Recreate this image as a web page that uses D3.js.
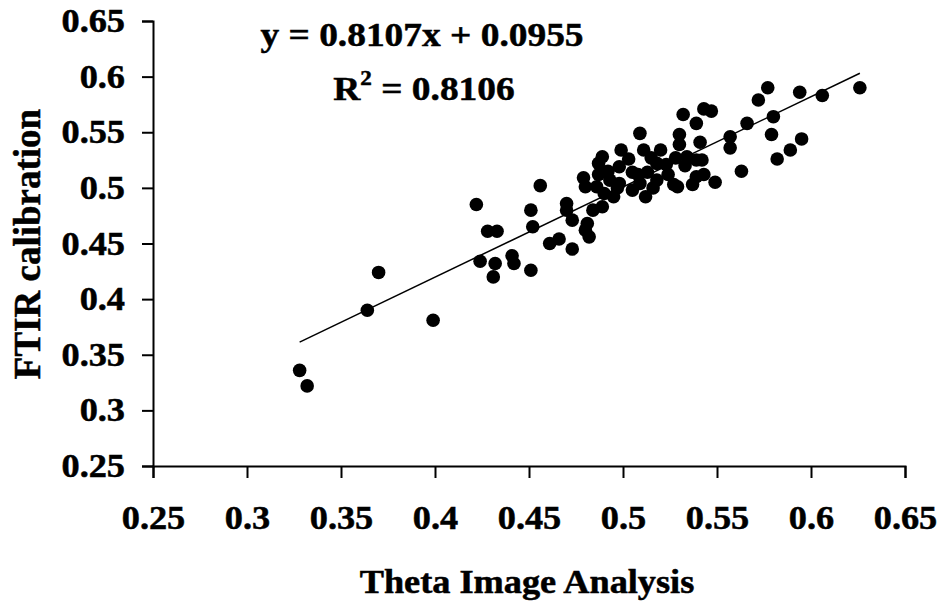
<!DOCTYPE html>
<html>
<head>
<meta charset="utf-8">
<script src="https://cdn.jsdelivr.net/npm/d3@7"></script>
<style>
  body { margin: 0; background: #fff; }
  text { font-family: "Liberation Serif", "Times New Roman", serif; font-weight: bold; fill: #000; stroke: #000; stroke-width: 0.5px; }
</style>
</head>
<body>
<div id="chart"></div>
<script>
// Theta image analysis (x) vs FTIR calibration (y)
const thetaX = [
  0.328, 0.332, 0.364, 0.370, 0.399, 0.422, 0.428, 0.433, 0.424, 0.432,
  0.431, 0.441, 0.442, 0.451, 0.451, 0.452, 0.456, 0.461, 0.466, 0.473,
  0.470, 0.470, 0.473, 0.479, 0.480, 0.480, 0.482, 0.489, 0.499, 0.511,
  0.520, 0.487, 0.486, 0.493, 0.498, 0.505, 0.509, 0.513, 0.518, 0.523,
  0.518, 0.512, 0.495, 0.489, 0.484, 0.481, 0.527, 0.528, 0.505, 0.498,
  0.509, 0.532, 0.539, 0.530, 0.530, 0.534, 0.539, 0.529, 0.537, 0.539,
  0.577, 0.572, 0.594, 0.606, 0.626, 0.580, 0.566, 0.543, 0.547, 0.541,
  0.557, 0.557, 0.542, 0.563, 0.579, 0.582, 0.589, 0.595, 0.549, 0.543,
  0.492, 0.503, 0.515, 0.497, 0.508, 0.487, 0.516, 0.524, 0.533, 0.490
];
const ftirY = [
  0.336, 0.322, 0.390, 0.424, 0.381, 0.485, 0.461, 0.461, 0.434, 0.432,
  0.420, 0.439, 0.432, 0.426, 0.480, 0.465, 0.502, 0.450, 0.454, 0.445,
  0.486, 0.480, 0.471, 0.509, 0.501, 0.462, 0.456, 0.528, 0.534, 0.534,
  0.534, 0.522, 0.501, 0.507, 0.519, 0.514, 0.504, 0.514, 0.522, 0.521,
  0.507, 0.492, 0.492, 0.483, 0.480, 0.468, 0.503, 0.527, 0.498, 0.504,
  0.549, 0.566, 0.558, 0.548, 0.539, 0.528, 0.525, 0.501, 0.503, 0.510,
  0.590, 0.579, 0.586, 0.583, 0.590, 0.564, 0.558, 0.571, 0.569, 0.541,
  0.546, 0.536, 0.525, 0.515, 0.548, 0.526, 0.534, 0.544, 0.505, 0.512,
  0.515, 0.526, 0.527, 0.500, 0.512, 0.512, 0.500, 0.512, 0.520, 0.495
];
const slope = 0.8107;
const intercept = 0.0955;
const equationLabel = 'y = 0.8107x + 0.0955';
const r2Value = '0.8106';
const xTicks = [0.25, 0.3, 0.35, 0.4, 0.45, 0.5, 0.55, 0.6, 0.65];
const yTicks = [0.25, 0.3, 0.35, 0.4, 0.45, 0.5, 0.55, 0.6, 0.65];

const width = 945, height = 608;
const margin = { top: 21, right: 40, bottom: 142, left: 153 };
const stretchX = 1.1; // the original text is a little wide

const svg = d3.select('#chart').append('svg')
  .attr('width', width)
  .attr('height', height);

const x = d3.scaleLinear().domain([0.25, 0.65]).range([margin.left, width - margin.right]);
const y = d3.scaleLinear().domain([0.25, 0.65]).range([height - margin.bottom, margin.top]);

const fmt = (d) => String(+d.toFixed(2));

// move x/y into a transform so the text can be widened in place
function widen(sel) {
  sel.each(function () {
    const t = d3.select(this);
    const tx = +t.attr('x') || 0;
    const ty = +t.attr('y') || 0;
    t.attr('x', null).attr('y', null)
      .attr('transform', `translate(${tx},${ty}) scale(${stretchX},1)`);
  });
}

// axes
const xAxisG = svg.append('g')
  .attr('transform', `translate(0,${y(0.25)})`)
  .call(d3.axisBottom(x).tickValues(xTicks).tickFormat(fmt).tickSizeInner(12).tickSizeOuter(12));
const yAxisG = svg.append('g')
  .attr('transform', `translate(${x(0.25)},0)`)
  .call(d3.axisLeft(y).tickValues(yTicks).tickFormat(fmt).tickSizeInner(11).tickSizeOuter(11).tickPadding(17));

[xAxisG, yAxisG].forEach((g) => {
  g.selectAll('path, line').attr('stroke', '#000').attr('stroke-width', 2);
  g.selectAll('text').attr('font-size', 33).attr('font-family', null).attr('fill', null);
});
xAxisG.selectAll('text').attr('dy', null).attr('y', 63);
widen(xAxisG.selectAll('text'));
widen(yAxisG.selectAll('text'));

// regression line
const xr = d3.extent(thetaX);
const line = d3.line().x((d) => x(d)).y((d) => y(slope * d + intercept));
svg.append('path')
  .datum(xr)
  .attr('d', line)
  .attr('fill', 'none')
  .attr('stroke', '#000')
  .attr('stroke-width', 1.5);

// points
svg.append('g')
  .selectAll('circle')
  .data(thetaX.map((d, i) => [d, ftirY[i]]))
  .join('circle')
  .attr('cx', (d) => x(d[0]))
  .attr('cy', (d) => y(d[1]))
  .attr('r', 6.8)
  .attr('fill', '#000');

// equation
svg.append('text')
  .attr('x', 422)
  .attr('y', 46)
  .attr('text-anchor', 'middle')
  .attr('font-size', 34)
  .text(equationLabel)
  .call(widen);

const r2 = svg.append('text')
  .attr('x', 424)
  .attr('y', 100)
  .attr('text-anchor', 'middle')
  .attr('font-size', 34);
r2.append('tspan').text('R');
r2.append('tspan').attr('font-size', 21).attr('dy', -15).text('2');
r2.append('tspan').attr('dy', 15).text(` = ${r2Value}`);
widen(r2);

// axis titles
svg.append('text')
  .attr('x', 527)
  .attr('y', 593)
  .attr('text-anchor', 'middle')
  .attr('font-size', 33)
  .text('Theta Image Analysis')
  .call(widen);

svg.append('text')
  .attr('transform', 'translate(40,244) rotate(-90)')
  .attr('text-anchor', 'middle')
  .attr('font-size', 37)
  .text('FTIR calibration');
</script>
</body>
</html>
